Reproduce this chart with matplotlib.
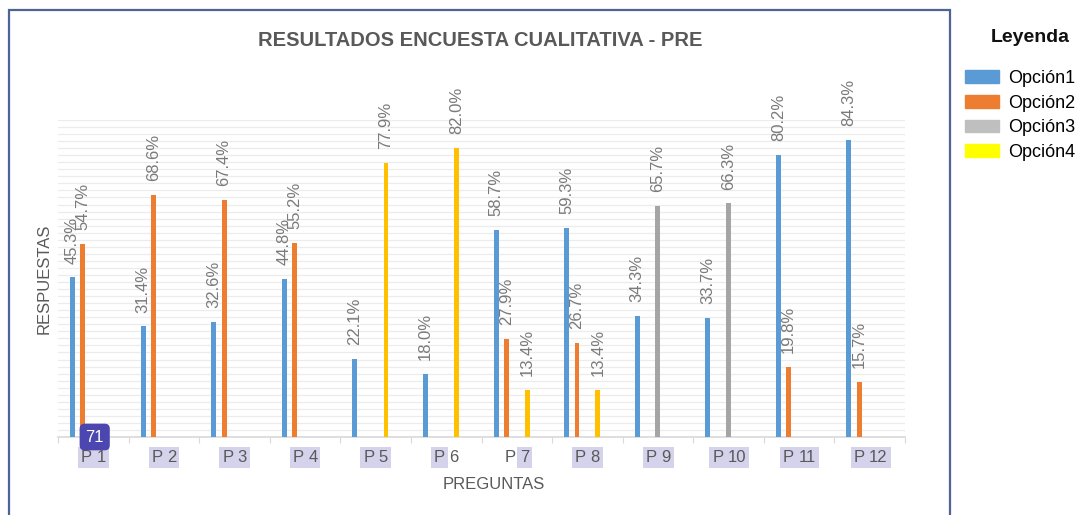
import numpy as np
import matplotlib.pyplot as plt
from matplotlib.patches import Patch, Rectangle
from matplotlib.transforms import blended_transform_factory

plt.rcParams['font.family'] = ['Liberation Sans', 'DejaVu Sans']

preguntas = ['P1', 'P2', 'P3', 'P4', 'P5', 'P6', 'P7', 'P8', 'P9', 'P10', 'P11', 'P12']
series = ['Opción1', 'Opción2', 'Opción3', 'Opción4']
opcion1 = [45.3, 31.4, 32.6, 44.8, 22.1, 18.0, 58.7, 59.3, 34.3, 33.7, 80.2, 84.3]
opcion2 = [54.7, 68.6, 67.4, 55.2, None, None, 27.9, 26.7, None, None, 19.8, 15.7]
opcion3 = [None, None, None, None, None, None, None, None, 65.7, 66.3, None, None]
opcion4 = [None, None, None, None, 77.9, 82.0, 13.4, 13.4, None, None, None, None]
bar_colors = ['#5B9BD5', '#ED7D31', '#A5A5A5', '#FFC000']
legend_colors = ['#5B9BD5', '#ED7D31', '#BFBFBF', '#FFFF00']
# label highlight: which parts ("P", number) are shaded
highlight = {'P6': (True, False), 'P7': (False, True)}

fig = plt.figure(figsize=(10.92, 5.15), dpi=100)
ax = fig.add_axes([58 / 1092, 1 - 437 / 515, 847 / 1092, 317 / 515])

x = np.arange(len(preguntas))
step = 0.147
width = 0.07
for k, vals in enumerate([opcion1, opcion2, opcion3, opcion4]):
    for i, v in enumerate(vals):
        if v is None:
            continue
        xi = x[i] + (k - 2) * step
        ax.bar(xi, v, width=width, color=bar_colors[k], zorder=3)
        ax.annotate(f'{v:.1f}%', (xi, v), xytext=(0, 10), textcoords='offset points',
                    rotation=90, ha='center', va='bottom', fontsize=12,
                    color='#7a7a7a', annotation_clip=False)

ax.set_xlim(-0.5, len(preguntas) - 0.5)
ax.set_ylim(0, 90)
ax.set_yticks(np.arange(0, 91, 2))
ax.yaxis.grid(True, color='#ececec', linewidth=0.9, zorder=0)
ax.tick_params(axis='y', length=0, labelleft=False)
ax.set_xticks(np.arange(-0.5, len(preguntas), 1))
ax.tick_params(axis='x', direction='out', length=4, color='#d9d9d9', labelbottom=False)
for s in ['top', 'right', 'left']:
    ax.spines[s].set_visible(False)
ax.spines['bottom'].set_color('#d9d9d9')
ax.spines['bottom'].set_linewidth(1.2)

# tick labels with highlight
trans = blended_transform_factory(ax.transData, ax.transAxes)
hl = '#d5d2ec'
for i, p in enumerate(preguntas):
    num = p[1:]
    hp, hn = highlight.get(p, (True, True))
    if len(num) == 1:
        xp, xn = i - 0.016, i + 0.045
    else:
        xp, xn = i - 0.07, i - 0.01
    ax.text(xp, -0.066, 'P', transform=trans, ha='right', va='center', fontsize=12,
            color='#595959',
            bbox=dict(boxstyle='square,pad=0.18', fc=hl, ec='none') if hp else None)
    ax.text(xn, -0.066, num, transform=trans, ha='left', va='center', fontsize=12,
            color='#595959',
            bbox=dict(boxstyle='square,pad=0.18', fc=hl, ec='none') if hn else None)

# badge
ax.text(0.02, 0, '71', ha='center', va='center', fontsize=12, color='white', zorder=6,
        bbox=dict(boxstyle='round,pad=0.35,rounding_size=0.3', fc='#4b46b0', ec='none'),
        clip_on=False)

ax.set_ylabel('RESPUESTAS', fontsize=12, color='#595959')
ax.yaxis.set_label_coords(-0.008, 0.5)
ax.set_xlabel('PREGUNTAS', fontsize=12, color='#595959')
ax.xaxis.set_label_coords(0.515, -0.125)

fig.text(480 / 1092, 1 - 40 / 515, 'RESULTADOS ENCUESTA CUALITATIVA - PRE', ha='center',
         va='center', fontsize=14.5, fontweight='bold', color='#595959')

# frame
fig.patches.append(Rectangle((9 / 1092, -0.05), 941 / 1092, 1.05 - 10 / 515, transform=fig.transFigure,
                             fill=False, ec='#4d6496', lw=1.6))

fig.text(1030 / 1092, 1 - 38 / 515, 'Leyenda', ha='center', va='center', fontsize=14,
         fontweight='bold', color='#111111')
handles = [Patch(color=c) for c in legend_colors]
fig.legend(handles, series, loc='upper left', bbox_to_anchor=(965 / 1092, 1 - 70 / 515),
           frameon=False, fontsize=13, handlelength=1.9, handleheight=0.7, handletextpad=0.5,
           labelspacing=0.42, borderaxespad=0, borderpad=0)

fig.savefig('out.png', dpi=100)
